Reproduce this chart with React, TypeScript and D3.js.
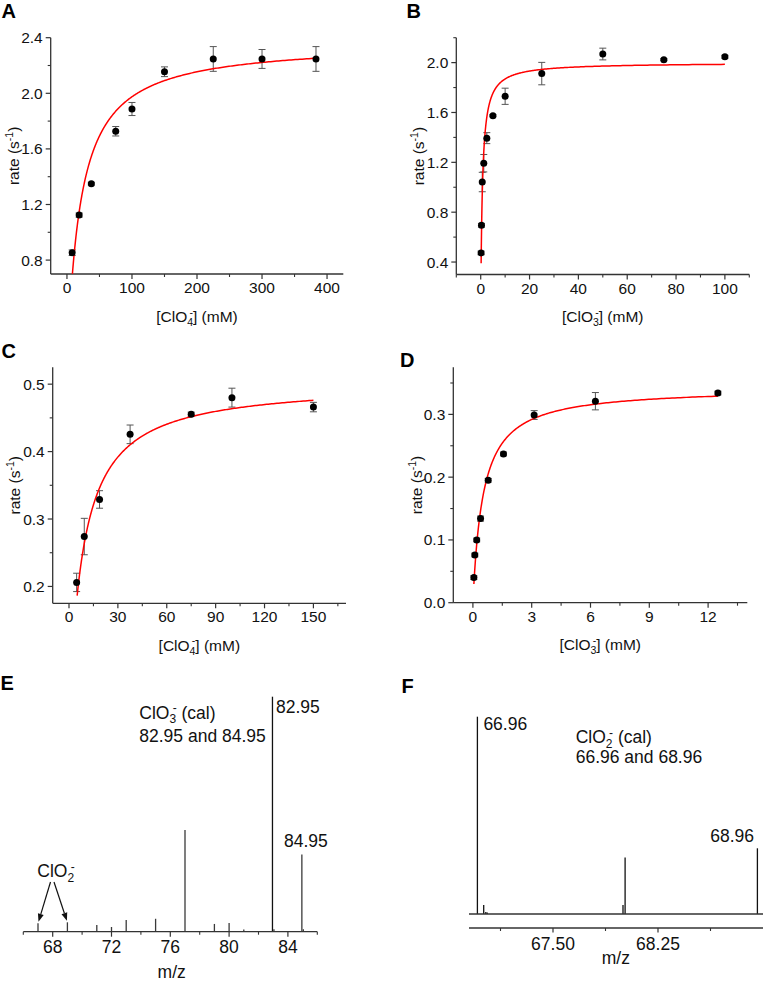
import React from "react";
import * as d3 from "d3";

const FONT = "'Liberation Sans', Arial, Helvetica, sans-serif";
const AXIS = "#333";

// ---- Panel A: rate vs [ClO4-] ----
const concA = [8, 18.75, 37.5, 75, 100, 150, 225, 300, 383];
const rateA = [0.853, 1.124, 1.35, 1.727, 1.887, 2.155, 2.247, 2.247, 2.247];
const errA = [0.02, 0.015, 0.01, 0.034, 0.047, 0.035, 0.089, 0.068, 0.089];
const vmaxA = 2.37;
const kmA = 20;
const xTicksA = [0, 100, 200, 300, 400];
const yTicksA = [0.8, 1.2, 1.6, 2.0, 2.4];

// ---- Panel B: rate vs [ClO3-] ----
const concB = [0.156, 0.3125, 0.625, 1.25, 2.5, 5, 10, 25, 50, 75, 100];
const rateB = [0.473, 0.695, 1.042, 1.193, 1.394, 1.574, 1.73, 1.912, 2.069, 2.024, 2.047];
const errB = [0.015, 0.015, 0.078, 0.07, 0.044, 0.008, 0.065, 0.09, 0.047, 0.008, 0.012];
const vmaxB = 2.0;
const kmB = 0.7;
const xTicksB = [0, 20, 40, 60, 80, 100];
const yTicksB = [0.4, 0.8, 1.2, 1.6, 2.0];

// ---- Panel C: rate vs [ClO4-] ----
const concC = [4.69, 9.375, 18.75, 37.5, 75, 100, 150];
const rateC = [0.206, 0.274, 0.329, 0.4256, 0.4555, 0.48, 0.466];
const errC = [0.0136, 0.027, 0.013, 0.0138, 0.003, 0.014, 0.007];
const vmaxC = 0.503;
const kmC = 8.5;
const xTicksC = [0, 30, 60, 90, 120, 150];
const yTicksC = [0.2, 0.3, 0.4, 0.5];

// ---- Panel D: rate vs [ClO3-] ----
const concD = [0.049, 0.098, 0.195, 0.39, 0.78, 1.56, 3.125, 6.25, 12.5];
const rateD = [0.04, 0.076, 0.1, 0.134, 0.195, 0.237, 0.299, 0.321, 0.334];
const errD = [0.003, 0.003, 0.003, 0.004, 0.003, 0.003, 0.007, 0.0138, 0.003];
const vmaxD = 0.3428;
const kmD = 0.523;
const xTicksD = [0, 3, 6, 9, 12];
const yTicksD = [0.0, 0.1, 0.2, 0.3];

// ---- Panel E: mass spectrum, ClO3- calibration ----
const mzE = [67, 69, 71, 72, 73, 75, 77, 79, 80, 81, 82.95, 83.05, 84.95, 85.05];
const intE = [3.6, 4.0, 2.9, 2.0, 5.0, 5.5, 43.3, 3.3, 3.7, 0.9, 100, 1.0, 32.9, 1.0];
const xTicksE = [68, 72, 76, 80, 84];
const xMinorE = [66, 70, 74, 78, 82, 86];

// ---- Panel F: mass spectrum, ClO2- calibration ----
const mzF = [66.96, 67.005, 67.02, 67.03, 68.0, 68.015, 68.96];
const intF = [100, 4.6, 1.0, 0.8, 4.6, 28.6, 33.3];
const xTicksF = [67.5, 68.25];
const xMinorF = [67.125, 67.875, 68.625];

const TICK_FS = 15.5;

function mm(vmax: number, km: number, x: number) {
  return (vmax * x) / (km + x);
}

function IonLabel({ x, y, sub, size, anchor, tail }: any) {
  const s = size * 0.68;
  return (
    <text x={x} y={y} textAnchor={anchor} fontSize={size} fontFamily={FONT} fill="#111">
      <tspan>[ClO</tspan>
      <tspan dy={size * 0.28} fontSize={s}>{sub}</tspan>
      <tspan dx={-s * 0.35} dy={-size * 0.68} fontSize={s}>-</tspan>
      <tspan dy={size * 0.4}>{tail}</tspan>
    </text>
  );
}

function KineticPanel(props: any) {
  const {
    letter, letterX, letterY, xr, yr, xd, yd, xTicks, yTicks, xMinorStep, yMinorStep,
    conc, rate, err, vmax, km, fitStart, fitEnd, yFmt, ion, yTitleX, xTitleY,
  } = props;
  const x = d3.scaleLinear().domain(xd).range(xr);
  const y = d3.scaleLinear().domain(yd).range(yr);
  const eps = 1e-9;
  const xMinor = d3.range(Math.ceil(xd[0] / xMinorStep) * xMinorStep, xd[1] + eps, xMinorStep)
    .filter((v) => !xTicks.some((t: number) => Math.abs(t - v) < 1e-6));
  const yMinor = d3.range(Math.ceil((yd[0] - eps) / yMinorStep) * yMinorStep, yd[1] + eps, yMinorStep)
    .filter((v) => !yTicks.some((t: number) => Math.abs(t - v) < 1e-6));
  const n = 400;
  const fitX = d3.range(n + 1).map((i) => fitStart * Math.pow(fitEnd / fitStart, i / n));
  const line = d3.line<number>().x((v) => x(v)).y((v) => y(mm(vmax, km, v)));
  const bottom = yr[0];
  const left = xr[0];
  const cx = (xr[0] + xr[1]) / 2;
  const cy = (yr[0] + yr[1]) / 2;
  return (
    <g>
      <text x={letterX} y={letterY} fontSize={20} fontWeight="bold" fontFamily={FONT} fill="#000">{letter}</text>
      {/* axes */}
      <line x1={left} x2={xr[1]} y1={bottom} y2={bottom} stroke={AXIS} strokeWidth={1.3} />
      <line x1={left} x2={left} y1={yr[1]} y2={bottom} stroke={AXIS} strokeWidth={1.3} />
      {xTicks.map((t: number) => (
        <g key={"xt" + t}>
          <line x1={x(t)} x2={x(t)} y1={bottom} y2={bottom + 5} stroke={AXIS} strokeWidth={1.2} />
          <text x={x(t)} y={bottom + 19} textAnchor="middle" fontSize={TICK_FS} fontFamily={FONT} fill="#111">{t}</text>
        </g>
      ))}
      {xMinor.map((t: number) => (
        <line key={"xm" + t} x1={x(t)} x2={x(t)} y1={bottom} y2={bottom + 3} stroke={AXIS} strokeWidth={1.1} />
      ))}
      {yTicks.map((t: number) => (
        <g key={"yt" + t}>
          <line x1={left - 5} x2={left} y1={y(t)} y2={y(t)} stroke={AXIS} strokeWidth={1.2} />
          <text x={left - 8} y={y(t) + 5.5} textAnchor="end" fontSize={TICK_FS} fontFamily={FONT} fill="#111">{yFmt(t)}</text>
        </g>
      ))}
      {yMinor.map((t: number) => (
        <line key={"ym" + t} x1={left - 3} x2={left} y1={y(t)} y2={y(t)} stroke={AXIS} strokeWidth={1.1} />
      ))}
      {/* titles */}
      <text transform={`translate(${yTitleX},${cy}) rotate(-90)`} textAnchor="middle" fontSize={15.5} fontFamily={FONT} fill="#111">
        rate (s<tspan dy={-6} fontSize={10.5}>-1</tspan><tspan dy={6}>)</tspan>
      </text>
      <IonLabel x={cx} y={xTitleY} sub={ion} size={15.5} anchor="middle" tail="] (mM)" />
      {/* error bars */}
      {conc.map((c: number, i: number) => (
        <g key={"e" + i} stroke="#555" strokeWidth={1}>
          <line x1={x(c)} x2={x(c)} y1={y(rate[i] - err[i])} y2={y(rate[i] + err[i])} />
          <line x1={x(c) - 3.5} x2={x(c) + 3.5} y1={y(rate[i] - err[i])} y2={y(rate[i] - err[i])} />
          <line x1={x(c) - 3.5} x2={x(c) + 3.5} y1={y(rate[i] + err[i])} y2={y(rate[i] + err[i])} />
        </g>
      ))}
      {/* fitted curve */}
      <path d={line(fitX) || ""} fill="none" stroke="#ff0000" strokeWidth={1.5} />
      {/* data points */}
      {conc.map((c: number, i: number) => (
        <circle key={"p" + i} cx={x(c)} cy={y(rate[i])} r={3.5} fill="#000" />
      ))}
    </g>
  );
}

function Arrow({ x1, y1, x2, y2 }: any) {
  const ang = Math.atan2(y2 - y1, x2 - x1);
  const L = 8, Wd = 3;
  const bx = x2 - L * Math.cos(ang);
  const by = y2 - L * Math.sin(ang);
  const px = -Math.sin(ang) * Wd;
  const py = Math.cos(ang) * Wd;
  return (
    <g>
      <line x1={x1} y1={y1} x2={bx} y2={by} stroke="#111" strokeWidth={1.2} />
      <polygon points={`${x2},${y2} ${bx + px},${by + py} ${bx - px},${by - py}`} fill="#111" />
    </g>
  );
}

function SpectrumE() {
  const x = d3.scaleLinear().domain([66, 86]).range([23.3, 317.3]);
  const y = d3.scaleLinear().domain([0, 100]).range([931.7, 696.7]);
  const base = y(0);
  const fs = 17.5;
  return (
    <g fontFamily={FONT}>
      <text x={0.5} y={690} fontSize={20} fontWeight="bold" fill="#000">E</text>
      {mzE.map((m, i) => (
        <line key={"pk" + i} x1={x(m)} x2={x(m)} y1={base} y2={y(intE[i])} stroke={i === 10 ? "#111" : "#3a3a3a"} strokeWidth={1.3} />
      ))}
      <line x1={x(66)} x2={x(86)} y1={base} y2={base} stroke={AXIS} strokeWidth={1.3} />
      {xTicksE.map((t) => (
        <g key={"t" + t}>
          <line x1={x(t)} x2={x(t)} y1={base} y2={base + 5} stroke={AXIS} strokeWidth={1.2} />
          <text x={x(t)} y={953.3} textAnchor="middle" fontSize={fs} fill="#111">{t}</text>
        </g>
      ))}
      {xMinorE.map((t) => (
        <line key={"m" + t} x1={x(t)} x2={x(t)} y1={base} y2={base + 3} stroke={AXIS} strokeWidth={1.1} />
      ))}
      <text x={171.7} y={978} textAnchor="middle" fontSize={fs} fill="#111">m/z</text>
      <text x={139.3} y={718.5} fontSize={fs} fill="#111">
        ClO<tspan dy={4.5} fontSize={12}>3</tspan><tspan dx={-3.5} dy={-11} fontSize={12}>-</tspan><tspan dy={6.5}> (cal)</tspan>
      </text>
      <text x={139.3} y={741.7} fontSize={fs} fill="#111">82.95 and 84.95</text>
      <text x={x(82.95) + 3.5} y={713.3} fontSize={fs} fill="#111">82.95</text>
      <text x={x(84.95) + 4} y={846.7} textAnchor="middle" fontSize={fs} fill="#111">84.95</text>
      <text x={56} y={877.3} textAnchor="middle" fontSize={fs} fill="#111">
        ClO<tspan dy={4.5} fontSize={12}>2</tspan><tspan dx={-3.5} dy={-11} fontSize={12}>-</tspan>
      </text>
      <Arrow x1={50.5} y1={882} x2={x(67) + 0.5} y2={y(intE[0]) - 1.5} />
      <Arrow x1={54} y1={882} x2={x(69) - 0.5} y2={y(intE[1]) - 1.5} />
    </g>
  );
}

function SpectrumF() {
  const x = d3.scaleLinear().domain([66.9, 69.0]).range([469, 763]);
  const y = d3.scaleLinear().domain([0, 100]).range([914, 716.7]);
  const base = y(0);
  const axisY = 928;
  const fs = 17.5;
  return (
    <g fontFamily={FONT}>
      <text x={401.5} y={693.3} fontSize={20} fontWeight="bold" fill="#000">F</text>
      {mzF.map((m, i) => (
        <line key={"pk" + i} x1={x(m)} x2={x(m)} y1={base} y2={y(intF[i])} stroke="#111" strokeWidth={1.3} />
      ))}
      <line x1={469} x2={763} y1={base} y2={base} stroke={AXIS} strokeWidth={1.3} />
      <line x1={469} x2={763} y1={axisY} y2={axisY} stroke={AXIS} strokeWidth={1.3} />
      {xTicksF.map((t) => (
        <g key={"t" + t}>
          <line x1={x(t)} x2={x(t)} y1={axisY} y2={axisY + 4.5} stroke={AXIS} strokeWidth={1.2} />
          <text x={x(t)} y={950} textAnchor="middle" fontSize={fs} fill="#111">{t.toFixed(2)}</text>
        </g>
      ))}
      {xMinorF.map((t) => (
        <line key={"m" + t} x1={x(t)} x2={x(t)} y1={axisY} y2={axisY + 3} stroke={AXIS} strokeWidth={1.1} />
      ))}
      <text x={615.8} y={964} textAnchor="middle" fontSize={fs} fill="#111">m/z</text>
      <text x={x(66.96) + 6} y={730} fontSize={fs} fill="#111">66.96</text>
      <text x={575.7} y={743.3} fontSize={fs} fill="#111">
        ClO<tspan dy={4.5} fontSize={12}>2</tspan><tspan dx={-3.5} dy={-11} fontSize={12}>-</tspan><tspan dy={6.5}> (cal)</tspan>
      </text>
      <text x={575.7} y={763.3} fontSize={fs} fill="#111">66.96 and 68.96</text>
      <text x={754} y={841.7} textAnchor="end" fontSize={fs} fill="#111">68.96</text>
    </g>
  );
}

const f1 = (v: number) => v.toFixed(1);

export default function App() {
  return (
    <svg width={764} height={982} viewBox="0 0 764 982" style={{ position: "absolute", left: 0, top: 0, background: "#fff" }}>
      <rect width={764} height={982} fill="#fff" />
      <KineticPanel
        letter="A" letterX={1.5} letterY={18}
        xr={[50.7, 343.3]} yr={[274, 37.7]} xd={[-25, 425]} yd={[0.7, 2.4]}
        xTicks={xTicksA} yTicks={yTicksA} xMinorStep={50} yMinorStep={0.2}
        conc={concA} rate={rateA} err={errA} vmax={vmaxA} km={kmA} fitStart={8.4} fitEnd={383}
        yFmt={f1} ion="4" yTitleX={18.5} xTitleY={322}
      />
      <KineticPanel
        letter="B" letterX={406.5} letterY={18.3}
        xr={[456.3, 749.3]} yr={[274.5, 37.7]} xd={[-10, 110]} yd={[0.3, 2.2]}
        xTicks={xTicksB} yTicks={yTicksB} xMinorStep={10} yMinorStep={0.2}
        conc={concB} rate={rateB} err={errB} vmax={vmaxB} km={kmB} fitStart={0.17} fitEnd={100}
        yFmt={f1} ion="3" yTitleX={423.5} xTitleY={322}
      />
      <KineticPanel
        letter="C" letterX={1.5} letterY={358.3}
        xr={[52.7, 346]} yr={[603.3, 367.3]} xd={[-10, 170]} yd={[0.175, 0.525]}
        xTicks={xTicksC} yTicks={yTicksC} xMinorStep={15} yMinorStep={0.05}
        conc={concC} rate={rateC} err={errC} vmax={vmaxC} km={kmC} fitStart={5} fitEnd={150}
        yFmt={f1} ion="4" yTitleX={20} xTitleY={650.5}
      />
      <KineticPanel
        letter="D" letterX={400} letterY={367.3}
        xr={[453.3, 747.3]} yr={[602.7, 367.3]} xd={[-1, 14]} yd={[0, 0.375]}
        xTicks={xTicksD} yTicks={yTicksD} xMinorStep={1.5} yMinorStep={0.05}
        conc={concD} rate={rateD} err={errD} vmax={vmaxD} km={kmD} fitStart={0.05} fitEnd={12.5}
        yFmt={f1} ion="3" yTitleX={421.5} xTitleY={650}
      />
      <SpectrumE />
      <SpectrumF />
    </svg>
  );
}
